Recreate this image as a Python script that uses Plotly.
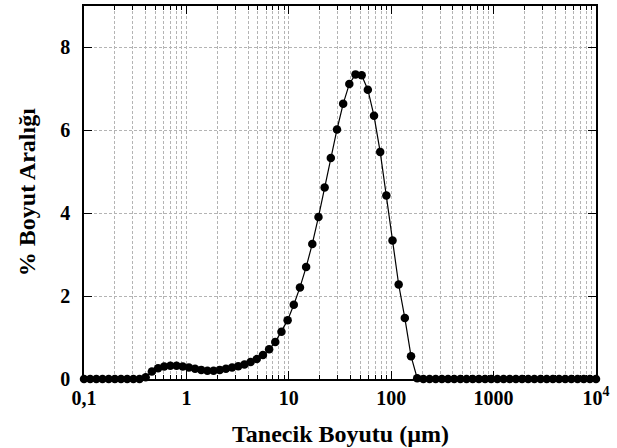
import plotly.graph_objects as go

# Particle size grid (µm), log-spaced from 0.1 to 10^4 (84 bins)
size_um = [
    0.1, 0.1149, 0.1320, 0.1516, 0.1742, 0.2001, 0.2299, 0.2641, 0.3034, 0.3486,
    0.4004, 0.4600, 0.5285, 0.6072, 0.6975, 0.8014, 0.9206, 1.058, 1.215, 1.396,
    1.604, 1.842, 2.117, 2.432, 2.794, 3.209, 3.687, 4.236, 4.866, 5.591,
    6.423, 7.379, 8.477, 9.739, 11.19, 12.85, 14.77, 16.96, 19.49, 22.39,
    25.72, 29.55, 33.95, 39.00, 44.80, 51.47, 59.14, 67.94, 78.05, 89.67,
    103.0, 118.3, 135.9, 156.2, 179.4, 206.1, 236.8, 272.0, 312.5, 359.0,
    412.4, 473.8, 544.3, 625.3, 718.3, 825.2, 947.9, 1089, 1251, 1437,
    1651, 1896, 2178, 2502, 2875, 3302, 3793, 4358, 5006, 5751,
    6607, 7589, 8718, 10000,
]

# % in each size class
percent = [
    0, 0, 0, 0, 0, 0, 0, 0, 0, 0,
    0.04, 0.18, 0.26, 0.30, 0.32, 0.32, 0.30, 0.28, 0.25, 0.22,
    0.20, 0.20, 0.22, 0.25, 0.28, 0.31, 0.35, 0.41, 0.48, 0.58,
    0.72, 0.89, 1.14, 1.42, 1.79, 2.21, 2.70, 3.26, 3.91, 4.62,
    5.33, 6.02, 6.64, 7.12, 7.35, 7.33, 6.98, 6.35, 5.48, 4.43,
    3.34, 2.28, 1.47, 0.55, 0.02, 0, 0, 0, 0, 0,
    0, 0, 0, 0, 0, 0, 0, 0, 0, 0,
    0, 0, 0, 0, 0, 0, 0, 0, 0, 0,
    0, 0, 0, 0,
]

x_tickvals = [0.1, 1, 10, 100, 1000, 10000]
x_ticktext = ["0,1", "1", "10", "100", "1000", "10<sup>4</sup>"]
x_minorvals = [m * 10 ** e for e in range(-1, 4) for m in range(2, 10)]
y_tickvals = [0, 2, 4, 6, 8]

FONT = "Liberation Serif"
GRID = "#b4b4b4"

fig = go.Figure()
fig.add_trace(go.Scatter(
    x=size_um, y=percent, mode="lines+markers",
    line=dict(color="black", width=1.2),
    marker=dict(color="black", size=8.5),
    cliponaxis=False, showlegend=False,
))

fig.update_layout(
    width=617, height=448,
    margin=dict(l=84, r=21, t=6, b=69),
    paper_bgcolor="white", plot_bgcolor="white",
    font=dict(family=FONT, color="black"),
)

fig.update_xaxes(
    type="log", range=[-1, 4], automargin=False,
    tickmode="array", tickvals=x_tickvals, ticktext=x_ticktext,
    tickfont=dict(family=FONT, size=20, color="black", weight="bold"),
    ticks="inside", ticklen=8, tickwidth=1, tickcolor="black",
    showline=True, linecolor="black", linewidth=1.5, mirror="ticks",
    showgrid=True, gridcolor=GRID, gridwidth=1, griddash="3px,2px",
    minor=dict(tickmode="array", tickvals=x_minorvals, ticks="inside", ticklen=4,
               tickcolor="black", tickwidth=1, showgrid=True, gridcolor=GRID,
               gridwidth=1, griddash="3px,2px"),
    zeroline=False, ticklabelstandoff=0,
)

fig.update_yaxes(
    range=[0, 9], automargin=False,
    tickmode="array", tickvals=y_tickvals,
    tickfont=dict(family=FONT, size=20, color="black", weight="bold"),
    ticks="inside", ticklen=8, tickwidth=1, tickcolor="black",
    showline=True, linecolor="black", linewidth=1.5, mirror="ticks",
    showgrid=True, gridcolor=GRID, gridwidth=1, griddash="3px,2px",
    zeroline=False, ticklabelstandoff=8,
)

fig.add_annotation(
    text="Tanecik Boyutu (µm)", xref="paper", yref="paper",
    x=0.5, y=-0.147, xanchor="center", yanchor="middle", showarrow=False,
    font=dict(family=FONT, size=24, color="black", weight="bold"),
)
fig.add_annotation(
    text="% Boyut Aralığı", xref="paper", yref="paper", textangle=-90,
    x=-0.112, y=0.5, xanchor="center", yanchor="middle", showarrow=False,
    font=dict(family=FONT, size=24, color="black", weight="bold"),
)

fig.write_html(
    "out.html",
    config={"displayModeBar": False},
    post_script="document.body.style.margin='0';document.body.style.overflow='hidden';",
)
